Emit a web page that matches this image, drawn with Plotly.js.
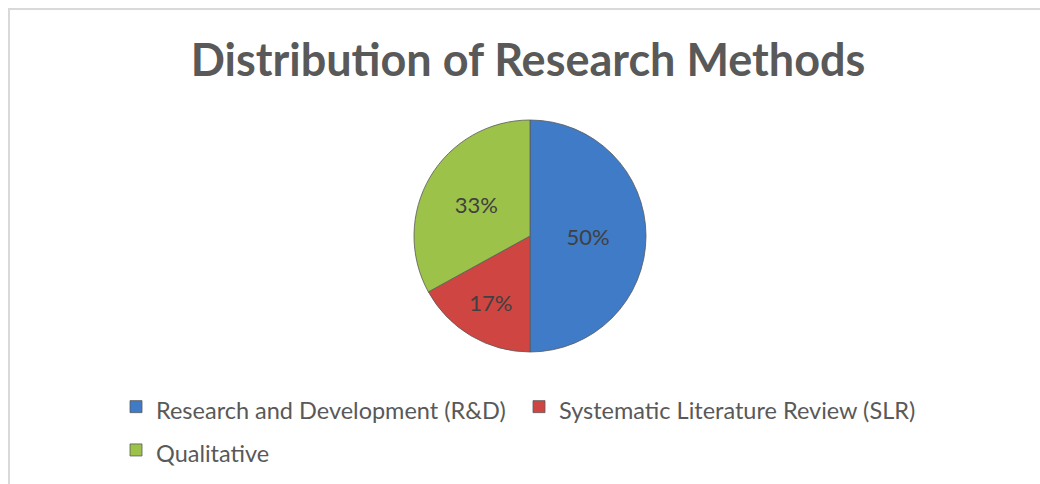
<!DOCTYPE html>
<html>
<head>
<meta charset="utf-8">
<script src="https://cdn.plot.ly/plotly-3.0.1.min.js"></script>
<style>
  html, body { margin: 0; padding: 0; background: #fff; }
  #wrap { position: relative; width: 1040px; height: 484px; overflow: hidden; }
  #frame { position: absolute; left: 8px; top: 8px; width: 1040px; height: 484px;
           border-top: 2px solid #d9d9d9; border-left: 2px solid #d9d9d9; box-sizing: border-box; pointer-events: none; }
  #chart { position: absolute; left: 0; top: 0; width: 1040px; height: 484px; }
</style>
</head>
<body>
<div id="wrap">
  <div id="chart"></div>
  <div id="frame"></div>
</div>
<script>
const categories = ["Research and Development (R&D)", "Systematic Literature Review (SLR)", "Qualitative"];
const shares = [50, 17, 33];
const colors = ["#3f7bc6", "#cf4541", "#9cc249"];
const chartTitle = "Distribution of Research Methods";

const W = 1040, H = 484;
const cx = 530, cy = 236, r = 116;

// legend labels rendered slightly smaller than the legend row font (gives taller rows)
const legendLabels = categories.map(c => '<span style="font-size:23.5px">' + c.replace(/&/g, "&amp;") + '</span>');

const trace = {
  type: "pie",
  labels: legendLabels,
  values: shares,
  sort: false,
  direction: "clockwise",
  rotation: 0,
  marker: { colors: colors, line: { color: "#5a5a5a", width: 0.8 } },
  texttemplate: "%{percent:.0%}",
  textposition: "inside",
  insidetextorientation: "horizontal",
  textfont: { family: "Lato, sans-serif", size: 22, color: "#404040" },
  hoverinfo: "percent",
  domain: { x: [(cx - r) / W, (cx + r) / W], y: [1 - (cy + r) / H, 1 - (cy - r) / H] }
};

const layout = {
  width: W, height: H,
  margin: { l: 0, r: 0, t: 0, b: 0, autoexpand: false },
  paper_bgcolor: "#ffffff",
  title: {
    text: "<b>" + chartTitle + "</b>",
    font: { family: "Lato, sans-serif", size: 45, color: "#595959" },
    x: 528 / W, xanchor: "center",
    y: 1 - 60 / H, yanchor: "middle"
  },
  showlegend: true,
  legend: {
    orientation: "h",
    x: 116 / W, xanchor: "left",
    y: 1 - 380 / H, yanchor: "top",
    font: { family: "Lato, sans-serif", size: 31, color: "#595959" },
    traceorder: "normal",
    entrywidth: 358,
    entrywidthmode: "pixels",
    tracegroupgap: 0
  }
};

Plotly.newPlot("chart", [trace], layout, { displayModeBar: false, staticPlot: true });
</script>
</body>
</html>
